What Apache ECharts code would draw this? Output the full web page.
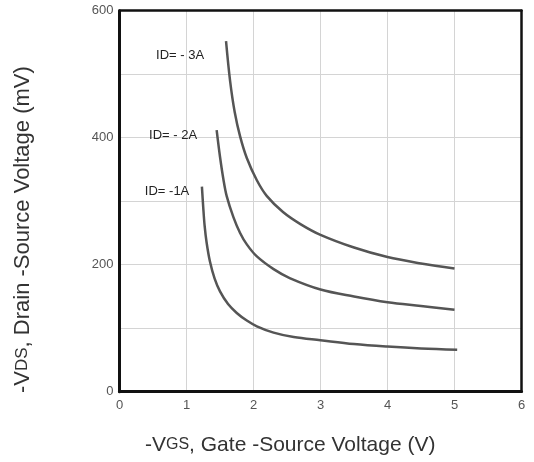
<!DOCTYPE html>
<html>
<head>
<meta charset="utf-8">
<script src="https://cdn.jsdelivr.net/npm/echarts@6/dist/echarts.min.js"></script>
<style>
html, body { margin: 0; padding: 0; background: #fff; }
#main { width: 534px; height: 462px; }
</style>
</head>
<body>
<div id="main"></div>
<script>
// -Vgs (V) / -Vds (mV)
var vgs1 = [1.23, 1.25, 1.27, 1.3, 1.35, 1.42, 1.5, 1.62, 1.75, 1.9, 2.05, 2.3, 2.6, 3.0, 3.5, 4.0, 4.5, 5.04];
var vds1 = [323, 290, 262, 235, 205, 178, 158, 138, 124, 112, 103, 93, 86, 81, 75, 71, 68, 66];

var vgs2 = [1.45, 1.5, 1.55, 1.6, 1.7, 1.8, 1.9, 2.05, 2.3, 2.54, 3.0, 3.5, 4.0, 4.5, 5.0];
var vds2 = [412, 370, 335, 308, 275, 250, 232, 213, 193, 179, 161, 150, 141, 135, 129];

var vgs3 = [1.59, 1.65, 1.72, 1.8, 1.9, 2.05, 2.2, 2.44, 2.7, 3.0, 3.5, 4.0, 4.5, 5.0];
var vds3 = [552, 490, 440, 402, 368, 333, 308, 283, 264, 247, 227, 212, 202, 194];

var seriesNames = ['ID= -1A', 'ID= - 2A', 'ID= - 3A'];
var labelAt = [[0.71, 315], [0.80, 403], [0.905, 530]];

var xTicks = [0, 1, 2, 3, 4, 5, 6];
var yTicks = [0, 200, 400, 600];

function pairs(xs, ys) {
  var out = [];
  for (var i = 0; i < xs.length; i++) out.push([xs[i], ys[i]]);
  return out;
}

var curves = [pairs(vgs1, vds1), pairs(vgs2, vds2), pairs(vgs3, vds3)];

var myChart = echarts.init(document.getElementById('main'));

var series = curves.map(function (d, i) {
  return {
    name: seriesNames[i],
    type: 'line',
    data: d,
    smooth: 0.35,
    showSymbol: false,
    lineStyle: { color: '#555', width: 2.5 },
    markPoint: {
      symbol: 'circle',
      symbolSize: 0,
      data: [{ coord: labelAt[i] }],
      label: {
        show: true,
        position: 'inside',
        formatter: seriesNames[i],
        color: '#222',
        fontSize: 13,
        fontFamily: 'Liberation Sans'
      }
    }
  };
});

// top and right edges of the frame
var frameAxis = {
  type: 'value',
  axisLine: { show: true, onZero: false, lineStyle: { color: '#111', width: 2.5 } },
  axisTick: { show: false },
  axisLabel: { show: false },
  splitLine: { show: false }
};

option = {
  animation: false,
  backgroundColor: '#fff',
  grid: { left: 119.5, right: 12.5, top: 10.7, bottom: 70.3 },
  xAxis: [{
    type: 'value',
    min: 0, max: 6, interval: 1,
    axisLine: { onZero: false, lineStyle: { color: '#111', width: 3 } },
    axisTick: { show: false },
    splitLine: { lineStyle: { color: '#d4d4d4', width: 1 } },
    axisLabel: {
      color: '#555', fontSize: 13, margin: 7,
      fontFamily: 'Liberation Sans',
      formatter: function (v) { return xTicks.indexOf(v) >= 0 ? String(v) : ''; }
    }
  }, Object.assign({ position: 'top', min: 0, max: 6 }, frameAxis)],
  yAxis: [{
    type: 'value',
    min: 0, max: 600, interval: 100,
    axisLine: { show: true, onZero: false, lineStyle: { color: '#111', width: 3 } },
    axisTick: { show: false },
    splitLine: { lineStyle: { color: '#d4d4d4', width: 1 } },
    axisLabel: {
      color: '#555', fontSize: 13, margin: 6,
      fontFamily: 'Liberation Sans',
      formatter: function (v) { return yTicks.indexOf(v) >= 0 ? String(v) : ''; }
    }
  }, Object.assign({ position: 'right', min: 0, max: 600 }, frameAxis)],
  graphic: [
    {
      type: 'text',
      x: 145, y: 445,
      style: {
        text: '-V{s|GS}, Gate -Source Voltage (V)',
        rich: { s: { fontSize: 16, fill: '#333', fontFamily: 'Liberation Sans' } },
        fontSize: 21, fill: '#333', fontFamily: 'Liberation Sans',
        align: 'left', verticalAlign: 'middle'
      }
    },
    {
      type: 'text',
      x: 22.5, y: 393,
      rotation: Math.PI / 2,
      style: {
        text: '-V{s|DS}, Drain -Source Voltage (mV)',
        rich: { s: { fontSize: 17, fill: '#333', fontFamily: 'Liberation Sans' } },
        fontSize: 22, fill: '#333', fontFamily: 'Liberation Sans',
        align: 'left', verticalAlign: 'middle'
      }
    }
  ],
  series: series
};
myChart.setOption(option);
</script>
</body>
</html>
